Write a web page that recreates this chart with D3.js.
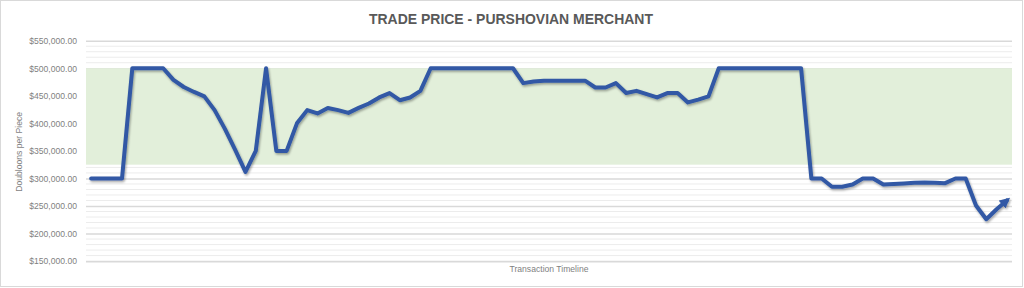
<!DOCTYPE html>
<html>
<head>
<meta charset="utf-8">
<script src="https://cdn.jsdelivr.net/npm/d3@7"></script>
<style>
html,body{margin:0;padding:0;background:#fff;}
svg{display:block;}
</style>
</head>
<body>
<svg id="chart" width="1024" height="288"></svg>
<script>
// ---- data ----
const title = "TRADE PRICE - PURSHOVIAN MERCHANT";
const xTitle = "Transaction Timeline";
const yTitle = "Doubloons per Piece";
const prices = [
  300000,300000,300000,300000,500000,500000,500000,500000,479000,466000,
  457000,449000,424000,390000,352000,312000,350000,500000,350000,350000,
  400000,424000,418000,428000,424000,419000,428000,436000,447000,455000,
  442000,447000,459000,500000,500000,500000,500000,500000,500000,500000,
  500000,500000,473000,476000,477500,477500,477500,477500,477500,465000,
  465000,473000,455000,459000,453000,447000,455000,455000,438000,443000,
  449000,500000,500000,500000,500000,500000,500000,500000,500000,500000,
  300000,300000,285000,285000,289000,300000,300000,289000,290000,291000,
  292000,292500,292000,291500,300000,300000,251000,226000,244000,260000
];
const bandLow = 325000;
const bandHigh = 500000;
const yTicks = [150000,200000,250000,300000,350000,400000,450000,500000,550000];
const yDomain = [150000, 550000];
const minorStep = 10000;

// ---- layout ----
const svg = d3.select("#chart");
const pLeft = 86, pRight = 1012, pTop = 40.7, pBottom = 261.1;

const x = d3.scaleBand().domain(d3.range(prices.length)).range([pLeft, pRight]);
const xc = i => x(i) + x.bandwidth() / 2;
const y = d3.scaleLinear().domain(yDomain).range([pBottom, pTop]);

// outer frame
svg.append("rect").attr("x",0.5).attr("y",0.5).attr("width",1022).attr("height",286)
  .attr("fill","#fff").attr("stroke","#d9d9d9").attr("stroke-width",1);

// minor grid
const minor = d3.range(yDomain[0], yDomain[1] + 1, minorStep).filter(v => !yTicks.includes(v));
svg.append("g").selectAll("line").data(minor).join("line")
  .attr("x1", pLeft).attr("x2", pRight)
  .attr("y1", d => y(d)).attr("y2", d => y(d))
  .attr("stroke", "#ececec").attr("stroke-width", 1);

// major grid via axis
const yAxis = d3.axisLeft(y).tickValues(yTicks).tickSize(-(pRight-pLeft)).tickPadding(9)
  .tickFormat(d => "$" + d3.format(",.2f")(d));
const gy = svg.append("g").attr("transform", `translate(${pLeft},0)`).call(yAxis);
gy.select(".domain").remove();
gy.selectAll(".tick line").attr("stroke", "#d9d9d9").attr("stroke-width", 1.6);
gy.selectAll(".tick text").attr("fill", "#7f7f7f")
  .style("font-family", "'Liberation Sans', Arial, sans-serif").style("font-size", "8.6px");

// green band
svg.append("rect")
  .attr("x", pLeft).attr("width", pRight - pLeft)
  .attr("y", y(bandHigh)).attr("height", y(bandLow) - y(bandHigh))
  .attr("fill", "#e2efda");

// shadow + arrow
const defs = svg.append("defs");
const f = defs.append("filter").attr("id","sh").attr("x","-5%").attr("y","-20%").attr("width","110%").attr("height","140%");
f.append("feDropShadow").attr("dx",1).attr("dy",1.6).attr("stdDeviation",1.2)
  .attr("flood-color","#000").attr("flood-opacity",0.35);
defs.append("marker").attr("id","arr").attr("viewBox","0 0 10 10")
  .attr("refX",6).attr("refY",5).attr("markerWidth",2.6).attr("markerHeight",2.6)
  .attr("orient","auto")
  .append("path").attr("d","M0,0 L10,5 L0,10 Z").attr("fill","#3159a5");

// line
const line = d3.line().x((d,i) => xc(i)).y(d => y(d));
svg.append("path").datum(prices)
  .attr("d", line)
  .attr("fill","none").attr("stroke","#3159a5").attr("stroke-width",4)
  .attr("stroke-linejoin","round").attr("stroke-linecap","round")
  .attr("marker-end","url(#arr)")
  .attr("filter","url(#sh)");

// titles
svg.append("text").attr("x", 511).attr("y", 24).attr("text-anchor","middle")
  .attr("fill","#595959").style("font-family","'Liberation Sans', Arial, sans-serif")
  .style("font-weight","bold").style("font-size","14px")
  .attr("textLength", 284).attr("lengthAdjust","spacingAndGlyphs")
  .text(title);

svg.append("text").attr("x", (pLeft+pRight)/2).attr("y", 272).attr("text-anchor","middle")
  .attr("fill","#7f7f7f").style("font-family","'Liberation Sans', Arial, sans-serif")
  .style("font-size","8.6px").text(xTitle);

svg.append("text").attr("transform", `translate(22,${(pTop+pBottom)/2+1}) rotate(-90)`)
  .attr("text-anchor","middle")
  .attr("fill","#7f7f7f").style("font-family","'Liberation Sans', Arial, sans-serif")
  .style("font-size","8.6px").text(yTitle);
</script>
</body>
</html>
